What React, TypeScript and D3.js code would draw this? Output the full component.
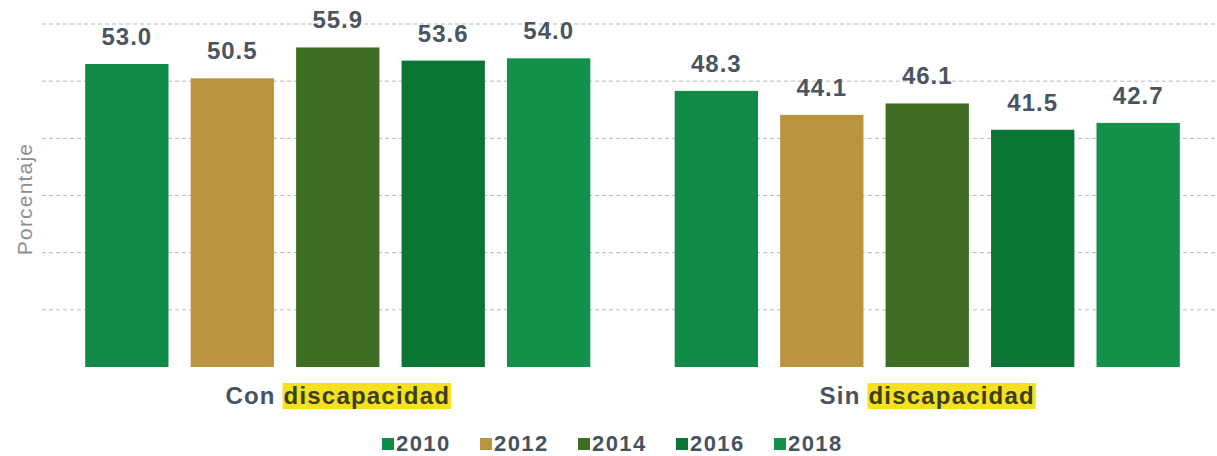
import { useEffect, useRef } from 'react';
import * as d3 from 'd3';

const groups = ['Con discapacidad', 'Sin discapacidad'];
const years = ['2010', '2012', '2014', '2016', '2018'];
const conValues = [53.0, 50.5, 55.9, 53.6, 54.0];
const sinValues = [48.3, 44.1, 46.1, 41.5, 42.7];
const yearColors = ['#0f8a47', '#bb943f', '#3d6e24', '#0a7635', '#12914a'];
const gridTicks = [10, 20, 30, 40, 50, 60];

const W = 1217;
const H = 456;
const FONT = 'Liberation Sans, Arial, sans-serif';

export default function App() {
  const ref = useRef<SVGSVGElement>(null);

  useEffect(() => {
    const svg = d3.select(ref.current);
    svg.selectAll('*').remove();

    const valueRows = [conValues, sinValues];
    const data = groups.flatMap((g, gi) =>
      years.map((y, yi) => ({ group: g, year: y, value: valueRows[gi][yi], color: yearColors[yi] }))
    );

    const y_scale = d3.scaleLinear().domain([0, 60]).range([367, 24]);
    const x0 = d3.scaleBand().domain(groups).range([43, 1222]).padding(0);
    const x1 = d3
      .scaleBand()
      .domain(years)
      .range([0, x0.bandwidth()])
      .paddingInner(0.21)
      .paddingOuter(0.4);

    // grid
    svg
      .append('g')
      .selectAll('line')
      .data(gridTicks)
      .enter()
      .append('line')
      .attr('x1', 42)
      .attr('x2', W)
      .attr('y1', d => y_scale(d))
      .attr('y2', d => y_scale(d))
      .attr('stroke', '#b9b9b9')
      .attr('stroke-width', 1)
      .attr('stroke-dasharray', '4,3');

    // bars
    svg
      .append('g')
      .selectAll('rect')
      .data(data)
      .enter()
      .append('rect')
      .attr('x', d => x0(d.group) + x1(d.year))
      .attr('y', d => y_scale(d.value))
      .attr('width', x1.bandwidth())
      .attr('height', d => y_scale(0) - y_scale(d.value))
      .attr('fill', d => d.color);

    // value labels
    svg
      .append('g')
      .selectAll('text')
      .data(data)
      .enter()
      .append('text')
      .attr('x', d => x0(d.group) + x1(d.year) + x1.bandwidth() / 2)
      .attr('y', d => y_scale(d.value) - 19)
      .attr('text-anchor', 'middle')
      .style('font-family', FONT)
      .style('font-weight', 'bold')
      .style('font-size', '24px')
      .style('letter-spacing', '1px')
      .attr('fill', '#4a5560')
      .text(d => d.value.toFixed(1));

    // category labels with highlighted word
    groups.forEach(g => {
      const [first, rest] = g.split(' ');
      const cx = x0(g) + x0.bandwidth() / 2;
      const lab = svg.append('g');
      const hl = lab.append('rect').attr('fill', '#f5e120');
      const t = lab
        .append('text')
        .attr('x', cx)
        .attr('y', 404)
        .attr('text-anchor', 'middle')
        .style('font-family', FONT)
        .style('font-weight', 'bold')
        .style('font-size', '24px')
        .style('letter-spacing', '1.2px');
      t.append('tspan').attr('fill', '#46535f').text(first + ' ');
      t.append('tspan').attr('fill', '#3b3d12').text(rest);
      const node = t.node() as SVGTextElement;
      const n = g.length;
      const start = node.getStartPositionOfChar(first.length + 1).x;
      const end = node.getEndPositionOfChar(n - 1).x;
      hl.attr('x', start - 1)
        .attr('y', 383)
        .attr('width', end - start + 2)
        .attr('height', 26);
    });

    // y axis title
    svg
      .append('text')
      .attr('transform', 'translate(32, 199) rotate(-90)')
      .attr('text-anchor', 'middle')
      .style('font-family', FONT)
      .style('font-size', '21px')
      .style('letter-spacing', '1.2px')
      .attr('fill', '#8e8e8e')
      .text('Porcentaje');

    // legend
    const legend = svg.append('g').attr('transform', 'translate(382, 0)');
    const item = legend
      .selectAll('g')
      .data(years)
      .enter()
      .append('g')
      .attr('transform', (d, i) => `translate(${i * 98}, 0)`);
    item
      .append('rect')
      .attr('y', 438)
      .attr('width', 12)
      .attr('height', 12)
      .attr('fill', (d, i) => yearColors[i]);
    item
      .append('text')
      .attr('x', 14)
      .attr('y', 451)
      .style('font-family', FONT)
      .style('font-weight', 'bold')
      .style('font-size', '22px')
      .style('letter-spacing', '1.4px')
      .attr('fill', '#46535f')
      .text(d => d);
  }, []);

  return (
    <svg
      ref={ref}
      width={W}
      height={H}
      style={{ position: 'absolute', left: 0, top: 0, background: '#fff' }}
    />
  );
}
